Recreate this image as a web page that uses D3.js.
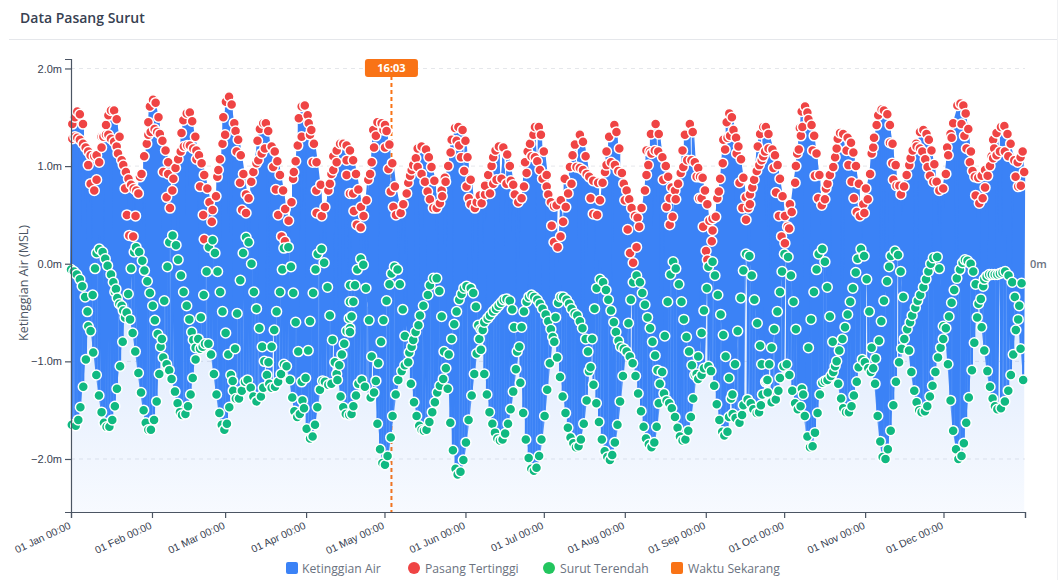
<!DOCTYPE html>
<html>
<head>
<meta charset="utf-8">
<title>Data Pasang Surut</title>
<script src="https://cdn.jsdelivr.net/npm/d3@7"></script>
<style>
  html, body { margin: 0; padding: 0; background: #fff; }
  svg { display: block; }
</style>
</head>
<body>
<svg id="chart" width="1058" height="580"></svg>
<script>
"use strict";

// Day of year for each month start, with its axis label. The last tick has no label.
const tickDays = [0, 31, 59, 90, 120, 151, 181, 212, 243, 273, 304, 334, 365.2];
const tickLabels = ['01 Jan 00:00', '01 Feb 00:00', '01 Mar 00:00', '01 Apr 00:00', '01 May 00:00', '01 Jun 00:00',
  '01 Jul 00:00', '01 Aug 00:00', '01 Sep 00:00', '01 Oct 00:00', '01 Nov 00:00', '01 Dec 00:00', ''];
const levelTicks = [2, 1, 0, -1, -2];
const nowDay = 122.67;
const nowLabel = '16:03';

// [day of year, metres MSL]
const highTides = [
  [.5,1.43],[1.5,1.5],[2.4,1.56],[3.4,1.53],[4.6,1.43],[6.6,1.01],[7.5,.82],[8.9,.75],[9.8,.86],[10.8,1.04],[11.7,1.19],
  [13.4,1.42],[14.3,1.52],[15.3,1.57],[16.5,1.57],[17.5,1.48],[18.6,1.3],[20.7,.77],[21.4,.5],[24.7,.49],[25.8,.72],[27,.92],
  [28,1.1],[29,1.23],[29.6,1.45],[30.2,1.61],[31.4,1.68],[32.4,1.65],[33.5,1.5],[35,1.26],[36.2,1.16],[37.2,1.04],[35.3,.94],
  [37.2,.92],[40,.98],[36.6,.68],[37.9,.57],[38.8,.75],[39.2,.87],[41,1.07],[42.3,1.34],[43,1.47],[44.3,1.54],[45.5,1.55],
  [46.4,1.46],[47.6,1.3],[48,1.07],[50,1.03],[51,.91],[49.4,.79],[52.2,.77],[53,.63],[54.2,.55],[53.9,.43],[50.6,.5],[55.5,.69],
  [56.4,.96],[57,1.07],[56,.89],[58,1.23],[58.3,1.5],[59,1.32],[59.3,1.66],[60.5,1.71],[61.5,1.63],[62.5,1.44],[63,1.36],[64,1.27],
  [63.4,1.15],[65,1.11],[64.7,.83],[66,.92],[65.5,.55],[67,.52],[67,.71],[68,.67],[69,.84],[69.8,.94],[71,1.03],[71.7,1.06],
  [73,1.13],[74.2,1.18],[76.8,1.2],[78,1.15],[71.4,1.26],[72.3,1.38],[73.6,1.44],[74.6,1.44],[75.5,1.36],[77.4,.99],[79,1.05],
  [80,.91],[78.4,.76],[81.2,.75],[82,.56],[79.3,.5],[84.4,.63],[83.3,.44],[85,.87],[85.3,.94],[86,1.05],[86.8,1.21],[87.2,1.49],
  [88.3,1.3],[88.3,1.61],[89.5,1.62],[90.6,1.52],[91,1.44],[92,1.37],[91.5,1.32],[93,1.23],[92.5,1.04],[94,1.04],[93.9,.75],
  [95.6,.81],[94,.52],[96,.49],[97.2,.58],[98.5,.75],[99.1,.82],[99.7,.92],[100.4,.96],[100.4,1.1],[101.7,1.04],[101.7,1.16],
  [103,1.23],[104.2,1.23],[105.5,1.21],[105.5,1.06],[105.5,.91],[106.8,.72],
  [.5,1.28],[1.5,1.3],[2.4,1.29],[3.4,1.27],[4.6,1.23],[5.6,1.19],[6.6,1.15],[7.5,1.11],[8.9,1.1],[9.8,1.11],[11.7,1.3],[12.4,1.3],
  [13.4,1.32],[14.3,1.32],[15.3,1.28],[16.5,1.25],[17.5,1.2],[18,1.13],[19.4,1.06],[20,1.01],[21,.94],[22,.87],[23,.81],[24,.77],
  [25,.75],[26.4,.89],[29.6,1.32],[30.5,1.35],[32,1.38],[33,1.35],[34,1.33],[42,1.15],[43.2,1.2],[44.5,1.21],[45.5,1.21],[46.8,1.18],
  [48,1.16],[49,1.11],[22.3,.29],[23.8,.28],[51,.25],[80.6,.28],[81.9,.23],
  [106.8,1.16],[108,1.06],[108,.72],[108.3,.54],[109.1,.92],[109.4,.4],[110,.76],[110.9,.37],[111,.58],[112,.49],[113.1,.65],[113.8,.86],
  [114.5,.92],[115.1,1.04],[115.7,1.37],[116,1.19],[116.7,1.31],[117.3,1.45],[118.9,1.44],[119.6,1.37],[120.2,1.42],[120.2,1.19],
  [120.8,1.36],[121.5,.97],[121.9,1.22],[122.4,.74],[123,1.03],[123.4,.58],[124,.79],[124.4,.5],[126.2,.52],[127.2,.61],[128.5,.72],
  [129.1,.83],[129.8,.9],[130.4,.96],[131,1.01],[132,1.08],[132.7,.99],[132.7,1.18],[134.2,1.2],[134.2,.92],[135.5,.84],[135.9,1.17],
  [136.5,.74],[137,1.09],[137.4,.66],[138,.99],[138.7,.57],[139.1,.85],[140,.57],[141.2,.62],[141.9,.75],[142.1,.69],[143.1,.88],
  [143.4,.84],[144.4,1],[145.3,1.14],[145.7,1.27],[147,1.39],[147.6,1.26],[148.3,1.4],[148.6,1.21],[149.3,1.09],[149.9,1.37],[150.5,.95],
  [151,1.26],[151.4,.79],[151.8,1.09],[152.3,.67],[153,.86],[153,.61],[154.6,.57],[155.3,.63],[156.5,.7],[157.2,.62],[158.5,.71],
  [158.5,.8],[159.7,.91],[160.4,.72],[161,1],[161.6,1.09],[161.6,.82],[162.5,1.16],[162.9,.86],[163.8,1.2],[164.8,.87],[165.5,1.19],
  [166.7,.82],[167,1.12],[168,1],[168.4,.85],[169.3,.81],[169.9,.71],[171.2,.63],[172.5,.67],[173.4,.79],[173.8,1.04],[174.4,.93],
  [174.8,1.15],[175.7,1.23],[176.3,1.1],[177,1.32],[177.6,1.4],[177.6,1.09],[178.5,1.05],[179.1,1.4],[179.5,.96],[179.9,1.32],[180.5,.87],
  [181,1.15],[182.1,.91],[182.1,.79],[182.7,.71],[183.7,.63],[184,.39],[184.9,.59],[184.9,.22],[185.9,.6],[186.3,.17],[187.5,.65],
  [187.4,.28],[188.4,.43],[189,.87],[189.4,.58],[190.3,.72],[191,.99],[191.6,.82],[192,1.11],[192.9,1.22],[193.5,.99],[194.8,1.32],
  [194.8,.98],[196,1.25],[196,.96],[197,1.1],[197.4,.92],[198.4,.89],[198.9,.67],[199.9,.85],[199.9,.51],[201.4,.5],[201.8,.83],
  [202.5,.65],[203.5,.83],[204.4,.94],[205,1.01],[205,1.15],[206,1.3],[206.7,1.04],[208,1.42],[208.2,1.01],[208.8,1.35],[209.5,.95],
  [209.9,1.18],[210.9,.93],[211.6,.82],[212,.65],[212.7,.75],[213.1,.35],[213.7,.66],[214,.11],[214.6,.57],[215.2,.01],[215.9,.49],
  [216.5,.17],[216.9,.47],[217.5,.38],[218.4,.57],[219.7,.75],[220.3,.91],[220.3,1.16],[221,1.01],[221.6,1.15],[222,1.33],[222.2,1.13],
  [223.8,1.43],[223.5,1.16],[225,1.33],[224.8,1.15],[226.4,1.09],[226.7,.86],[227.7,1],[228.6,.89],[228,.58],[229.2,.67],[229.2,.4],
  [229.9,.78],[230.3,.48],[231.2,.75],[231.5,.66],[232.4,.82],[233.4,.93],[234.1,1.16],[234.4,.99],[235,1.32],[235.9,1.06],[236.9,1.43],
  [237.5,1.06],[238,1.35],[238.8,1.04],[239.5,.89],[240.1,.98],[240.5,.67],
  [240.8,.89],[241.8,.88],[242.7,.75],[241.4,.67],[243.6,.61],[242,.38],[244.4,.44],[245.6,.46],[246.8,.48],[245.6,.34],[245.3,.23],
  [243.1,.13],[243.6,.04],[247.4,.67],[248,.74],[248.5,.87],[249.5,1.03],[250.4,1.17],[251,1.45],[252,1.54],[253,1.5],[249.7,1.27],
  [251.3,1.29],[252.3,1.31],[253.6,1.37],[254.6,1.29],[255.5,1.2],[254.8,1.13],[256.5,1.07],[255.9,.83],[257.4,.88],[261.5,.86],[260.8,.78],
  [259.9,.71],[258.3,.68],[259.9,.61],[257,.57],[259.3,.57],[258.4,.45],[262.5,.95],[263.5,1.01],[264.4,1.06],[265,1.1],[265.7,1.15],
  [267,1.18],[262.9,1.2],[263.8,1.33],[265,1.4],[266,1.4],[267,1.33],[268.5,1.17],[269.5,1.11],[270.5,1.01],[268.9,.98],[271.4,.87],
  [269.9,.73],[272.4,.69],[275.2,.61],[271,.49],[273.3,.49],[275.9,.53],[274.3,.38],[274.9,.36],[272,.28],[273.3,.21],[277.2,.83],
  [277.5,1],[278,1.13],[278.6,1.17],[276.9,.83],[279,1.39],[279.7,1.56],[281,1.61],[281.9,1.55],[282.3,1.48],[283.5,1.42],[280,1.4],
  [279.4,1.31],[284.5,1.31],[283.9,1.16],[285.4,1.13],[284.8,.9],[286.5,.91],[290.5,.91],[289.6,.82],[289,.77],[286,.67],[288.6,.66],
  [287.4,.6],[292.5,1.09],[291.8,.99],[293.1,1.18],[293.5,1.28],[294.4,1.34],[295.6,1.33],[297.3,1.29],[298.6,1.24],[296.9,1.16],[299.5,1.14],
  [297.6,1.01],[300.5,1],[298.8,.84],[301.6,.82],[304.3,.77],[299.7,.67],[305,.66],[303.3,.61],[300.8,.53],[302,.49],[303.7,.52],[305.9,.92],
  [306.5,1.13],[307.1,1.19],[307.4,1.29],[308.4,1.42],[309,1.52],[310.3,1.58],[311.2,1.57],[312.5,1.53],[313.5,1.42],[313.5,1.24],[314.5,1.23],
  [314.4,1.03],[315.7,1.01],[314.8,.86],[316,.8],[317.1,.8],[317.7,.71],[318.9,.79],[319.9,.91],[320.9,1.01],[321.4,1.08],[322.2,1.16],
  [323.5,1.23],[325,1.35],[326.3,1.37],[327.5,1.33],[328.4,1.27],[323.7,1.2],[325,1.18],[325.9,1.15],[327,1.07],[329.4,1.16],[327.9,.99],
  [330.5,1.02],[328.8,.9],[330.1,.84],[331.4,.84],[332.4,.75],[333.9,.77],[334.9,.92],[335.8,1.11],[335.4,1.19],[337.1,1.29],[336.7,1.33],
  [337.7,1.44],[339.3,1.62],[340.5,1.64],[341.6,1.62],[342.5,1.54],[340.9,1.43],[343.5,1.38],[342,1.31],[342.8,1.18],[344.5,1.15],[344.1,1.04],
  [345.1,.95],[346,.89],[347.3,.88],[348.6,.9],[349.9,.96],[350.9,.9],[349.9,.78],[346.3,.7],[349,.67],[347.7,.62],[351.8,1],[352.4,1.1],
  [353.4,1.18],[353,1.27],[354.3,1.34],[356,1.4],[357.3,1.41],[358.5,1.33],[353,1.08],[354.3,1.11],[355.6,1.15],[357.5,1.15],[358.8,1.1],
  [359.7,1.23],[361.1,1.06],[362.4,1.04],[363.5,1.09],[364.3,1.15],[364.9,.94],[361.6,.89],[363.6,.8],[362.6,.79]
];

const lowTides = [
  [.3,-1.65],[1.8,-1.66],[2.8,-1.6],[3.6,-1.47],[4.7,-1.26],[5.7,-.98],[8.5,-.91],[7.5,-.69],[6.6,-.64],[6.3,-.49],[5.4,-.34],[8.3,-.32],
  [9.7,-1.14],[10.7,-1.35],[11.7,-1.52],[12.6,-1.63],[13.6,-1.67],[14.7,-1.67],[15.8,-1.6],[16.8,-1.46],[17.6,-1.28],[18.8,-1.05],[19.8,-.8],
  [16.8,-.29],[17.7,-.35],[18.5,-.41],[19.4,-.43],[20,-.48],[20.7,-.55],[21.3,-.5],[22.6,-.57],[21.9,-.31],[23.6,-.71],[24.6,-.9],[25.8,-1.12],
  [26.8,-1.32],[27.8,-1.5],[28.6,-1.63],[29.6,-1.7],[30.6,-1.7],[31.8,-1.6],[32.8,-1.41],[33.8,-1.13],[30.2,-.3],[31.3,-.43],[32.1,-.58],
  [33.2,-.72],[34.8,-.77],[34.3,-.85],[35.3,-.96],[36.6,-1.03],[37.6,-1.09],[38.5,-1.18],[39.8,-1.31],[40.8,-1.43],[41.7,-1.52],[42.5,-1.55],
  [43.8,-1.54],[44.8,-1.46],[45.8,-1.34],[46.6,-1.17],[47.7,-.98],[35.7,-.38],[43.1,-.29],[44.3,-.43],[45.3,-.57],[46.2,-.7],[46.8,-.78],
  [47.7,-.86],[48.7,-.77],[49.4,-.87],[50.4,-.85],[51.3,-.82],[52.6,-.82],[53.6,-.93],[54.7,-1.13],[55.7,-1.34],[56.8,-1.53],[57.7,-1.65],
  [58.7,-1.7],[59.7,-1.64],[60.6,-1.47],[60.2,-.93],[62.8,-.87],[61.2,-1.14],[61.9,-1.2],[62.1,-1.3],[63.1,-1.38],[64.3,-1.38],[65.4,-1.3],
  [66.6,-1.21],[67.6,-1.19],[68.8,-1.27],[69.8,-1.36],[71,-1.41],[72.7,-1.36],[73.6,-1.27],[75.9,-1.23],[76.8,-1.27],[78.1,-1.26],[79.3,-1.21],
  [80.4,-1.13],[81.5,-1.03],[82.5,-1.05],[83.8,-1.19],[84.7,-1.37],[85.5,-1.51],[86.6,-1.57],[87.6,-1.54],[88.6,-1.4],[89.2,-1.48],[88.3,-1.21],
  [89.8,-1.17],[90.2,-1.69],[91.5,-1.79],[92.5,-1.77],[93.4,-1.65],[94.3,-1.47],[95.3,-1.29],[96.3,-1.2],[97.2,-1.21],[98.5,-1.24],[99.7,-1.23],
  [101,-1.01],[102.7,-1.04],[101.7,-1.13],[102,-1.19],[103.2,-1.36],[104.2,-1.47],[105.2,-1.54],[106.5,-1.55],[103.7,-.93],[104.6,-.82],[100.1,-.78],
  [105.5,-.69],[106.5,-.56],[106.8,-.39],[87,-.9],[90.8,-.89],[86,-.6],[91.5,-.59],[99.1,-.53],[78.7,-.49],[77.8,-.68],[72.1,-.66],[71,-.46],
  [63.6,-.51],[58,-.49],[59.2,-.71],[49.7,-.55],[50.8,-.32],[57.1,-.29],[73.2,-.85],[76.8,-.85],[74,-1],[75.6,-1.01],[75,-1.14],[80,-.29],
  [85.1,-.3],[92.7,-.3],[70,-.29],[106.8,-.66],
  [0,-.06],[1.1,-.08],[2.2,-.11],[3.4,-.16],[4.3,-.23],[9.8,.11],[10.8,.15],[12.1,.12],[13.1,.05],[14,-.02],[15.3,-.11],[16.2,-.19],[17.2,-.26],
  [9.2,-.05],[24.9,.17],[26.1,.12],[24.2,.12],[27.3,.03],[23,-.05],[28.1,-.07],[29.2,-.18],[38.9,.29],[37.6,.22],[40.2,.19],[41,.04],[36.9,-.03],
  [42.1,-.12],[54.2,.24],[52.8,.17],[55.1,.11],[51.9,-.08],[56.1,-.08],[64.8,-.17],[67,.27],[68,.22],[65.9,.11],[69.1,0],[81.5,.16],[83.2,.17],
  [80.9,-.06],[84.2,-.03],[95.9,.15],[94.4,.1],[96.9,.01],[93.6,-.06],[98.2,-.24],[106.8,-.22],
  [110.9,.05],[111.9,-.01],[109.6,-.06],[108.7,-.22],[112.9,-.25],[108.1,-.39],[107.4,-.54],[106.8,-.7],[114.1,-.58],[119.6,-.58],[118.7,-.8],
  [115.1,-.95],[117.6,-1.02],[120.8,-.38],[121.9,-.21],[125.9,-.21],[122.7,-.1],[123.8,-.03],[125,-.06],[127,-.47],[127.8,-.74],[111.3,-1.19],
  [110,-1.23],[112.5,-1.26],[109.1,-1.35],[108.1,-1.46],[107.4,-1.54],[116.7,-1.2],[116,-1.32],[114.7,-1.37],[117.3,-1.64],[118.3,-1.9],[119.2,-2.04],
  [120.2,-2.06],[121.2,-1.97],[122.4,-1.78],[123.1,-1.56],[124.3,-1.34],[125.3,-1.19],[126.6,-1.1],[127.8,-1.04],[129.1,-1.01],[129.5,-.91],
  [130.4,-.85],[131,-.78],[131.9,-.7],[133,-.63],[133.6,-.53],[134.9,-.43],[136.6,-.32],[137.4,-.22],[138.7,-.15],[140,-.15],[141,-.28],[141.9,-.54],
  [130.1,-1.23],[131.3,-1.42],[132.3,-1.56],[133.3,-1.66],[134.2,-1.7],[135.1,-1.71],[136.1,-1.7],[137.2,-1.62],[138.3,-1.52],[139.3,-1.42],[140.2,-1.32],
  [141.2,-1.25],[142.5,-1.18],[143.5,-1.07],[142.8,-.9],[144.6,-.93],[144.2,-1.28],[145.2,-1.63],[146.2,-1.91],[147.2,-2.1],[148,-2.16],[149.1,-2.13],
  [150.2,-2.01],[151.2,-1.83],[152.2,-1.6],[153.4,-1.35],[154.4,-1.13],[145.7,-.77],[146.7,-.62],[147.6,-.49],[148.6,-.37],[149.5,-.31],[150.4,-.25],
  [151.4,-.23],[153,-.25],[154,-.3],[155,-.44],[155.9,-.63],[156.9,-.67],[157.6,-.68],[156.3,-.77],[156.9,-.88],[155.3,-.92],[158.2,-1.13],[159.2,-1.34],
  [160.2,-1.52],[161.3,-1.64],[162.3,-1.73],[163.2,-1.79],[164.2,-1.81],[165.2,-1.8],[166.2,-1.74],[167.3,-1.64],[168.3,-1.49],[169.3,-1.31],[170.3,-1.08],
  [170.8,-.9],[171.6,-.85],[158.2,-.6],[159.5,-.56],[160.4,-.53],[161.6,-.49],[162.7,-.46],[163.7,-.43],[164.7,-.4],[165.7,-.37],[166.7,-.36],[168,-.38],
  [168.9,-.47],[169.6,-.65],[172.5,-.65],[172,-1.22],[173.1,-1.53],[174.1,-1.8],[175.2,-1.99],[176.2,-2.1],[177.2,-2.12],[178.2,-2.09],[179.2,-1.97],
  [180.1,-1.8],[181.3,-1.56],[182.3,-1.29],[183.3,-1.02],[173.4,-.49],[174.4,-.39],[175.3,-.34],[176.3,-.32],[177.3,-.34],[178.5,-.37],[179.5,-.41],
  [180.5,-.46],[181.7,-.52],[182.7,-.59],[183.7,-.67],[184.4,-.75],[185,-.8],[185.5,-.55],[186.5,-.4],[187.4,-.34],[188.4,-.34],[189.7,-.37],[190.7,-.41],
  [191.6,-.46],[192.8,-.51],[193.8,-.53],[194.8,-.59],[195.8,-.66],[197,-.77],[199.5,-.77],[197.9,-.9],[198.9,-1.06],[198.3,-1.1],[186.1,-.96],[187.2,-1.16],
  [188.2,-1.36],[189.3,-1.53],[190.2,-1.68],[191.2,-1.78],[192.3,-1.84],[193.3,-1.88],[194.3,-1.87],[195.2,-1.8],[196.3,-1.64],[197.4,-1.4],[200,-1.24],
  [201.1,-1.43],[202.1,-1.62],[203.2,-1.8],[204.3,-1.92],[205.3,-1.98],[206.3,-2.01],[207.2,-1.96],[208.2,-1.83],[209.2,-1.65],[210.2,-1.41],[211.3,-1.15],
  [200.4,-.46],[201.2,-.25],[202.5,-.16],[203.7,-.19],[204.8,-.27],[205.7,-.37],[206.7,-.48],[207.8,-.6],[208.6,-.7],[209.6,-.79],[210.4,-.85],[211.6,-.87],
  [212.7,-.9],[213.9,-.95],[215,-1.02],[216.1,-1.15],[217.1,-1.33],[218.2,-1.51],[219.2,-1.67],[220.1,-1.79],[221.2,-1.85],[222.2,-1.88],[223.3,-1.83],
  [224.2,-1.67],[213.4,-.61],[214.3,-.37],[215.2,-.19],[216.5,-.12],[217.8,-.19],[218.7,-.3],[219.7,-.42],[220.7,-.55],[221.7,-.66],[222.6,-.8],[223.6,-.94],
  [224.5,-1.09],[225.4,-1.23],[226.3,-1.11],[227,-1.33],[225,-1.43],[228,-1.4],[229,-1.43],[230,-1.48],[231.2,-1.57],[232.2,-1.68],[233.1,-1.77],[234.1,-1.81],
  [235.2,-1.8],[236.3,-1.71],[237.3,-1.57],[238.2,-1.38],[229.5,-.11],[230.5,.02],[231.5,-.05],[232.7,-.21],[228.4,-.39],[233.7,-.39],[234.6,-.57],[227.3,-.74],
  [235.6,-.75],[236.6,-.9],[237.7,-1.04],[238.8,-1.14],[240.1,-1.18],[239.5,-1.13],[240.1,-.95],
  [245.6,.02],[244,-.03],[246.5,-.12],[243.4,-.25],[247.6,-.32],[242.3,-.48],[248.7,-.52],[241.4,-.71],[249.7,-.73],[250.6,-.95],[254.2,-1.03],[244,-1.05],
  [245,-1.1],[242.3,-1.07],[241.4,-1.14],[251.9,-1.17],[246.2,-1.25],[247.2,-1.44],[248.2,-1.6],[249.3,-1.72],[250.1,-1.76],[251.3,-1.72],[251.9,-1.57],
  [253.3,-1.54],[252.7,-1.38],[253.2,-1.34],[254.4,-1.58],[255.9,-1.63],[256.9,-1.55],[257.4,-1.45],[259,-1.39],[260.2,-1.43],[261.2,-1.49],[262.5,-1.53],
  [263.4,-1.52],[264.1,-1.45],[264.7,-1.34],[266.7,-1.32],[265.9,-1.21],[266.6,-1.19],[270.8,-1.3],[269.8,-1.39],[268.2,-1.42],[271.4,-1.17],[272.7,-1.05],
  [274,-1.03],[275,-1.14],[276.1,-1.3],[277.2,-1.43],[278.2,-1.49],[279.3,-1.46],[279.8,-1.28],[280.3,-1.34],[280.9,-1.56],[281.9,-1.77],[282.9,-1.88],
  [283.9,-1.87],[284.8,-1.73],[285.8,-1.53],[286.7,-1.34],[287.6,-1.22],[288.6,-1.2],[289.6,-1.19],[290.9,-1.15],[291.8,-1.11],[292.5,-1.05],[293.1,-1],
  [293.7,-1.23],[294.8,-1.38],[295.6,-1.48],[296.7,-1.52],[297.8,-1.52],[298.8,-1.46],[299.7,-1.35],[300.8,-1.21],[301.5,-1.06],[302.9,-.98],[303.9,-1.01],
  [305.2,-1.07],[306.2,-1.11],[307.1,-1.07],[307.8,-1.23],[308.8,-1.56],[309.8,-1.82],[310.7,-1.98],[311.8,-2],[312.7,-1.9],[313.8,-1.71],[314.8,-1.45],
  [315.8,-1.21],[317,-1.01],[308,-.97],[306.5,-.86],[309.3,-.79],[318,-.87],[319,-.77],[320.1,-.67],[320.8,-.89],[321.2,-.6],[322,-.53],[323.2,-.45],
  [324.1,-.38],[325.1,-.32],[326.3,-.24],[327.3,-.16],[328.2,-.08],[329.1,0],[330.1,.06],[331.6,.07],[332.4,-.05],[321.7,-1.11],[322.8,-1.3],[323.7,-1.42],
  [324.7,-1.5],[325.6,-1.52],[326.9,-1.51],[327.8,-1.46],[328.8,-1.36],[329.8,-1.25],[330.9,-1.11],[331.9,-.96],[332.9,-.86],[333.9,-.77],[334.9,-.66],
  [333.9,-.64],[336.1,-.54],[337.1,-.4],[338.1,-.27],[339.1,-.15],[340.3,-.06],[341.3,.01],[342.2,.04],[343.2,.03],[344.4,0],[345.4,-.08],[335.7,-1.03],
  [336.7,-1.4],[337.7,-1.71],[338.8,-1.9],[339.7,-2],[340.9,-1.97],[341.8,-1.84],[342.7,-1.63],[343.7,-1.37],[344.9,-1.09],[345.8,-.81],[346.9,-.55],
  [347.4,-.41],[348.3,-.36],[346.3,-.21],[349.2,-.23],[349.6,-.16],[350.5,-.13],[351.5,-.11],[352.5,-.11],[353.6,-.11],[354.6,-.11],[355.6,-.1],[356.6,-.09],
  [357.6,-.08],[358.9,-.12],[360.3,-.19],[363.9,-.2],[361.3,-.34],[363,-.43],[362.6,-.57],[361.7,-.68],[348.6,-.65],[349.6,-.89],[350.8,-1.1],[351.8,-1.26],
  [352.8,-1.38],[353.7,-1.46],[354.6,-1.49],[356,-1.48],[357.5,-1.41],[358.8,-1.3],[359.8,-1.14],[360.7,-.93],[363.5,-.87],[364.5,-1.19],[262.7,-.61],[255.2,-.69],
  [263.8,-.84],[268.2,-.86],[269.2,-.67],[270.4,-.49],[271.4,-.29],[276.6,-.39],[277.5,-.67],[282.3,-.86],[283.3,-.57],[284.4,-.29],[289.5,-.24],[290.5,-.54],
  [291.6,-.8],[295.3,-.77],[294.1,-.89],[296.3,-.65],[297.3,-.52],[298.3,-.39],[299.3,-.25],[300.4,-.09],[301.1,.05],[302.4,.15],[303.6,.08],[304.6,-.16],
  [305.6,-.49],[310.2,-.59],[311.2,-.38],[312.4,-.18],[313.2,-.03],[313.9,.08],[315.4,.13],[316.6,.09],[317.6,-.08],[318.6,-.34],[285.4,-.06],[286.2,.1],
  [287.6,.15],[288.6,.02],[256.4,-.35],[261.6,-.37],[257.4,-.07],[260.6,-.12],[258.4,.1],[259.7,.08],[272.2,-.08],[275.6,-.12],[273.1,.1],[274.5,.07],
  [264.4,-1.03],[267.3,-1.03],[266.3,-1.2]
];

const legendNames = ['Ketinggian Air', 'Pasang Tertinggi', 'Surut Terendah', 'Waktu Sekarang'];
const legendColors = ['#3b82f6', '#ef4444', '#22c55e', '#f97316'];

const margin = { top: 59, left: 71, bottom: 512, right: 1025 };
const svg = d3.select('#chart');

const x = d3.scaleLinear().domain([0, 365.2]).range([margin.left, margin.right]);
const y = d3.scaleLinear().domain([2.097, -2.543]).range([margin.top, margin.bottom]);

// card header
svg.append('text').attr('x', 20).attr('y', 23)
  .attr('font-family', '"Open Sans", sans-serif').attr('font-size', 14).attr('font-weight', 600)
  .attr('fill', '#374151').text('Data Pasang Surut');
svg.append('line').attr('x1', 9).attr('x2', 1058).attr('y1', 39.5).attr('y2', 39.5).attr('stroke', '#e5e7eb');
svg.append('line').attr('x1', 1057.5).attr('x2', 1057.5).attr('y1', 0).attr('y2', 580).attr('stroke', '#f0f1f3');

const defs = svg.append('defs');
const fade = defs.append('linearGradient').attr('id', 'waterFade').attr('gradientUnits', 'userSpaceOnUse')
  .attr('x1', 0).attr('x2', 0).attr('y1', margin.top).attr('y2', margin.bottom);
fade.append('stop').attr('offset', 0).attr('stop-color', '#3b82f6').attr('stop-opacity', 0.32);
fade.append('stop').attr('offset', 1).attr('stop-color', '#3b82f6').attr('stop-opacity', 0.04);

// gridlines
svg.append('g').selectAll('line').data(levelTicks).join('line')
  .attr('x1', margin.left).attr('x2', margin.right)
  .attr('y1', (d) => y(d)).attr('y2', (d) => y(d))
  .attr('stroke', '#e5e7eb').attr('stroke-dasharray', '4,4');

// the now marker sits under the water area
const nowX = x(nowDay);
svg.append('line').attr('x1', nowX).attr('x2', nowX).attr('y1', 76).attr('y2', margin.bottom)
  .attr('stroke', '#f97316').attr('stroke-width', 2).attr('stroke-dasharray', '4,3');

// water level runs high, low, high, low through the extremes of each day
const waterLine = [];
const waterBand = [];
d3.range(0, 366).forEach((day) => {
  const highs = highTides.filter((d) => Math.floor(d[0]) === day).sort((a, b) => a[0] - b[0]);
  const lows = lowTides.filter((d) => Math.floor(d[0]) === day).sort((a, b) => a[0] - b[0]);
  for (let i = 0; i < Math.max(highs.length, lows.length); i++) {
    if (highs[i]) waterLine.push(highs[i]);
    if (lows[i]) waterLine.push(lows[i]);
  }
  if (highs.length && lows.length) {
    waterBand.push({
      day: day + 0.5,
      top: d3.max(highs, (d) => d[1]),
      shallow: d3.max(lows, (d) => d[1]),
      deep: d3.min(lows, (d) => d[1])
    });
  }
});

svg.append('path').datum(waterLine)
  .attr('fill', 'url(#waterFade)')
  .attr('d', d3.area().x((d) => x(d[0])).y0(margin.bottom).y1((d) => y(d[1])));
// the hourly curve fills everything between the day's high and shallow low,
// and nearly everything down to the deep low
svg.append('path').datum(waterBand)
  .attr('fill', '#3b82f6').attr('fill-opacity', 0.82)
  .attr('d', d3.area().x((d) => x(d.day)).y0((d) => y(d.deep)).y1((d) => y(d.shallow)));
svg.append('path').datum(waterBand)
  .attr('fill', '#3b82f6')
  .attr('d', d3.area().x((d) => x(d.day)).y0((d) => y(d.shallow)).y1((d) => y(d.top)));
svg.append('path').datum(waterLine)
  .attr('fill', 'none').attr('stroke', '#3b82f6').attr('stroke-width', 2)
  .attr('d', d3.line().x((d) => x(d[0])).y((d) => y(d[1])));

function drawTides(data, color) {
  svg.append('g').selectAll('circle').data(data.slice().sort((a, b) => a[0] - b[0])).join('circle')
    .attr('cx', (d) => x(d[0])).attr('cy', (d) => y(d[1])).attr('r', 5)
    .attr('fill', color).attr('stroke', '#fff').attr('stroke-width', 1.5);
}
drawTides(highTides, '#ef4444');
drawTides(lowTides, '#10b981');

// axes
const tickFont = 'Liberation Sans, Arial, sans-serif';
const yAxis = svg.append('g').attr('transform', `translate(${margin.left},0)`)
  .call(d3.axisLeft(y).tickValues(levelTicks).tickFormat((d) => d3.format('.1f')(d) + 'm'));
const xAxis = svg.append('g').attr('transform', `translate(0,${margin.bottom})`)
  .call(d3.axisBottom(x).tickValues(tickDays).tickFormat((d, i) => tickLabels[i]));
[yAxis, xAxis].forEach((axis) => {
  axis.attr('font-family', tickFont).attr('font-size', 11);
  axis.selectAll('.domain, .tick line').attr('stroke', '#4b5563').attr('stroke-width', 1.2);
  axis.selectAll('text').attr('fill', '#374151');
});
xAxis.selectAll('text').attr('font-size', 10.4).attr('text-anchor', 'end').attr('dx', 0).attr('dy', 0)
  .attr('transform', 'translate(0,16) rotate(-25)').attr('y', 0).attr('x', 0);

svg.append('text').attr('transform', 'translate(28,283) rotate(-90)').attr('text-anchor', 'middle')
  .attr('font-family', '"Open Sans", sans-serif').attr('font-size', 12.5).attr('fill', '#4b5563')
  .text('Ketinggian Air (MSL)');

svg.append('text').attr('x', 1030).attr('y', 268)
  .attr('font-family', '"Open Sans", sans-serif').attr('font-size', 11).attr('font-weight', 600)
  .attr('fill', '#6b7280').text('0m');

// now label
const nowTag = svg.append('g').attr('transform', `translate(${nowX},68)`);
nowTag.append('rect').attr('x', -26.5).attr('y', -9).attr('width', 53).attr('height', 18).attr('rx', 3).attr('fill', '#f97316');
nowTag.append('text').attr('text-anchor', 'middle').attr('y', 4).attr('fill', '#fff')
  .attr('font-family', '"Open Sans", sans-serif').attr('font-size', 11).attr('font-weight', 700).text(nowLabel);

// legend, positions of the four entries along the bottom row
const legendX = [292, 414, 549, 677];
const legend = svg.append('g').selectAll('g').data(legendNames).join('g')
  .attr('transform', (d, i) => `translate(${legendX[i]},568)`);
legend.each(function (d, i) {
  const g = d3.select(this);
  if (i === 1 || i === 2) {
    g.append('circle').attr('r', 6).attr('fill', legendColors[i]);
  } else {
    g.append('rect').attr('x', -6).attr('y', -6).attr('width', 12).attr('height', 12).attr('rx', 2).attr('fill', legendColors[i]);
  }
  g.append('text').attr('x', i === 0 ? 10 : 11).attr('y', 4.5)
    .attr('font-family', '"Open Sans", sans-serif').attr('font-size', 12.2).attr('fill', '#6b7280').text(d);
});
</script>
</body>
</html>
